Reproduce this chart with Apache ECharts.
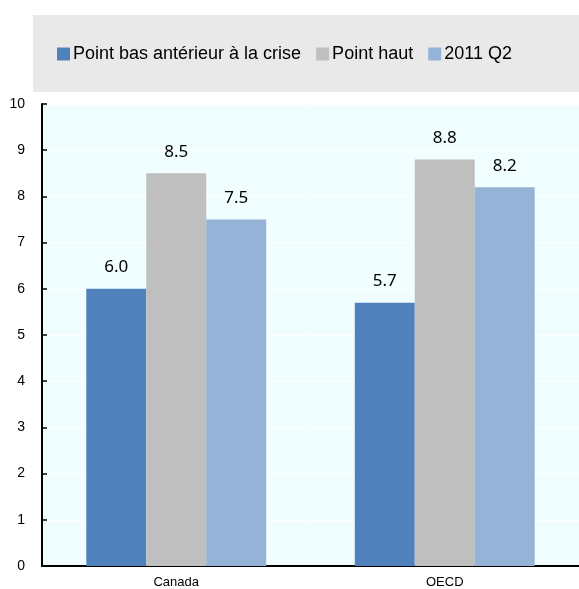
<!DOCTYPE html>
<html><head><meta charset="utf-8">
<script src="https://cdn.jsdelivr.net/npm/echarts@6/dist/echarts.min.js"></script>
<style>html,body{margin:0;padding:0;background:#fff}#c{width:579px;height:589px}</style>
</head><body><div id="c"></div>
<script>
const categories = ['Canada', 'OECD'];
const seriesNames = ['Point bas antérieur à la crise', 'Point haut', '2011 Q2'];
const preCrisisLow = [6.0, 5.7];
const peak = [8.5, 8.8];
const q2011 = [7.5, 8.2];
const colors = ['#4F81BD', '#BFBFBF', '#95B3D7'];

const chart = echarts.init(document.getElementById('c'));
const data = [preCrisisLow, peak, q2011];
chart.setOption({
  animation: false,
  graphic: [{type: 'rect', left: 33, top: 15, shape: {width: 546, height: 77}, style: {fill: '#E9E9E9'}, z: -1}],
  legend: {
    left: 52, top: 40, itemWidth: 13, itemHeight: 13, itemGap: 15,
    icon: 'rect',
    textStyle: {fontFamily: 'Liberation Sans', fontSize: 18, color: '#000', padding: [0,0,0,-2]},
    data: seriesNames
  },
  grid: {left: 42, right: 0, top: 104, bottom: 22, show: true, backgroundColor: '#F1FEFF', borderWidth: 0},
  xAxis: {
    type: 'category', data: categories,
    axisLine: {lineStyle: {color: '#000', width: 2}},
    axisTick: {inside: true, length: 5, lineStyle: {color: '#000', width: 1.5}},
    axisLabel: {fontFamily: 'Liberation Sans', fontSize: 13, color: '#000', margin: 10}
  },
  yAxis: {
    type: 'value', min: 0, max: 10, interval: 1,
    axisLine: {show: true, lineStyle: {color: '#000', width: 2}},
    axisTick: {show: true, inside: true, length: 5, lineStyle: {color: '#000', width: 1.5}},
    axisLabel: {fontFamily: 'Liberation Sans', fontSize: 14, color: '#000', margin: 17},
    splitLine: {lineStyle: {color: '#FFFFFF', width: 1}}
  },
  series: seriesNames.map((n, i) => ({
    name: n, type: 'bar', data: data[i],
    itemStyle: {color: colors[i]},
    barGap: '0%', barCategoryGap: '33%',
    label: {show: true, position: 'top', distance: 13, formatter: p => p.value.toFixed(1),
      fontFamily: 'Noto Sans', fontSize: 17, color: '#000'}
  }))
});
</script></body></html>
